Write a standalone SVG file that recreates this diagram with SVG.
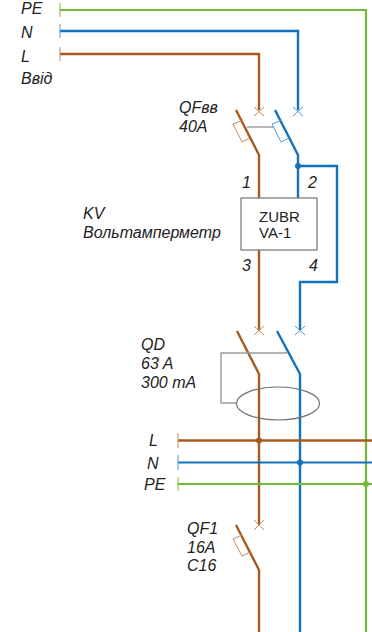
<svg xmlns="http://www.w3.org/2000/svg" width="372" height="632" viewBox="0 0 372 632">
<style>
text{font-family:"Liberation Sans",Arial,sans-serif;font-size:16px;fill:#222}
.i{font-style:italic}
.u{font-size:15px}
path,ellipse,rect{fill:none}
.br{stroke:#a85a1e;stroke-width:2.4}
.bl{stroke:#1272bc;stroke-width:2.4}
.n{stroke-width:2}
.gr{stroke:#72bb3a;stroke-width:2.2}
.brt{stroke:#c48a5c;stroke-width:1}
.blt{stroke:#4d9ad6;stroke-width:1}
.grt{stroke:#72bb3a;stroke-width:1}
.gy{stroke:#9a9a9a;stroke-width:1.4}
</style>
<g id="connectors">
<path class="gr" d="M60 10H366V632"/>
<path class="bl" d="M60 31H298V110"/>
<path class="br" d="M60 54H259V110"/>
<path class="br" d="M236 110L259 155V198"/>
<path class="bl" d="M275 110L298 155V198"/>
<path class="bl" d="M298 166H337V282H300V330"/>
<path class="br" d="M259 250V330"/>
<path class="br" d="M237 331L259 374V524"/>
<path class="bl" d="M277 331L300 374V632"/>
<path class="br" d="M236 525L259 570V632"/>
<path class="br" d="M178 440.500H372"/>
<path class="bl n" d="M178 462.500H372"/>
<path class="gr" d="M178 484H372"/>
<path class="gy" d="M247 127H274"/>
<path class="gy" d="M287 353H221V403H236"/>
<path class="grt" d="M60 3V17"/>
<path class="blt" d="M60 24V38"/>
<path class="brt" d="M60 47V61"/>
<path class="brt" d="M178 433V448"/>
<path class="blt" d="M178 455V470"/>
<path class="grt" d="M178 477V491"/>
<path class="brt" d="M254 107L264 116M264 107L254 116"/>
<path class="blt" d="M293 107L303 116M303 107L293 116"/>
<path class="brt" d="M254 326L264 335M264 326L254 335"/>
<path class="blt" d="M295 326L305 335M305 326L295 335"/>
<path class="brt" d="M254 520L264 530M264 520L254 530"/>
</g>
<g id="dots">
<circle cx="298" cy="166" r="3" fill="#1272bc"/>
<circle cx="259" cy="440.500" r="3" fill="#a85a1e"/>
<circle cx="300" cy="462.500" r="3" fill="#1272bc"/>
<circle cx="366" cy="484" r="3" fill="#72bb3a"/>
</g>
<g id="feed-labels">
<text class="i" x="21" y="14">PE</text>
<text class="i" x="21" y="38">N</text>
<text class="i" x="21" y="62">L</text>
<text class="i" x="21" y="84">Ввід</text>
</g>
<g id="QFvv">
<path class="brt" d="M233 124L243 120M233 124L242 142L250 138"/>
<path class="blt" d="M272 124L282 120M272 124L281 142L289 138"/>
<text class="i" x="179" y="113">QFвв</text>
<text class="i" x="179" y="132">40A</text>
<text class="i" x="242" y="188">1</text>
<text class="i" x="308" y="188">2</text>
</g>
<g id="KV">
<rect x="241" y="198" width="76" height="52" fill="#fff" stroke="#808080" stroke-width="1.300"/>
<text class="u" x="259" y="222">ZUBR</text>
<text class="u" x="259" y="238">VA-1</text>
<text class="i" x="83" y="219">KV</text>
<text class="i" x="83" y="238">Вольтамперметр</text>
<text class="i" x="242" y="271">3</text>
<text class="i" x="309" y="271">4</text>
</g>
<g id="QD">
<ellipse cx="278" cy="403.500" rx="41.500" ry="16.500" stroke="#707070" stroke-width="1.200"/>
<text class="i" x="141" y="350">QD</text>
<text class="i" x="141" y="369">63 A</text>
<text class="i" x="141" y="388">300 mA</text>
</g>
<g id="bus-labels">
<text class="i" x="149" y="446">L</text>
<text class="i" x="147" y="469">N</text>
<text class="i" x="144" y="490">PE</text>
</g>
<g id="QF1">
<path class="brt" d="M233 539L242 535M233 539L242 556L250 552"/>
<text class="i" x="187" y="534">QF1</text>
<text class="i" x="187" y="553">16A</text>
<text class="i" x="187" y="571">C16</text>
</g>
</svg>
